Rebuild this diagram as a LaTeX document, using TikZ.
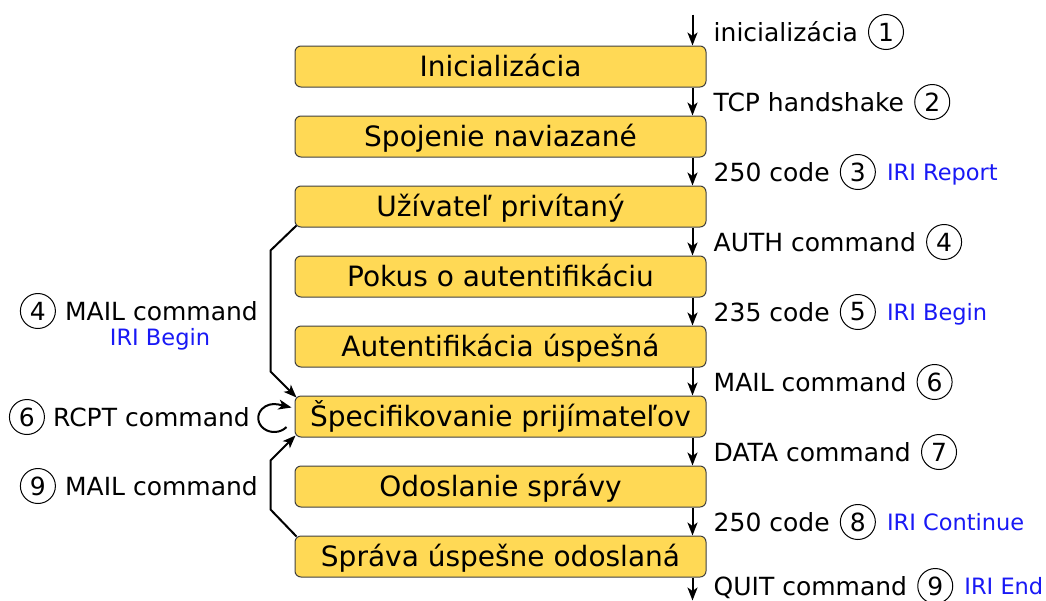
\documentclass[tikz,border=0pt]{standalone}
\usepackage{fontspec}
\setmainfont{DejaVu Sans}
\usetikzlibrary{arrows.meta,positioning,calc}
\definecolor{stateyellow}{RGB}{255,217,85}
\definecolor{iriblue}{RGB}{25,25,245}
\begin{document}
\begin{tikzpicture}[x=1pt,y=-1pt,
  state/.style={draw=black!75, line width=1pt, fill=stateyellow, rounded corners=6pt,
    minimum width=411pt, minimum height=41pt, inner sep=0pt,
    font=\fontsize{28}{32}\selectfont, text height=20.4pt, text depth=0pt},
  lbl/.style={inner sep=0pt, font=\fontsize{25}{30}\selectfont, text height=18pt, text depth=0pt},
  num/.style={draw, circle, line width=1pt, minimum size=35pt, inner sep=0pt,
    font=\fontsize{25}{30}\selectfont},
  iri/.style={inner sep=0pt, text=iriblue, font=\fontsize{22.5}{27}\selectfont,
    text height=16.4pt, text depth=0pt},
  flow/.style={line width=2pt, -{Stealth[length=13pt,width=10pt,inset=3.5pt]}},
]
\useasboundingbox (0,0) rectangle (1046,600);

% protocol states
\node[state] (B1) at (500.5,66.5)  {Inicializácia};
\node[state] (B2) at (500.5,136.5) {Spojenie naviazané};
\node[state] (B3) at (500.5,206.5) {Užívateľ privítaný};
\node[state] (B4) at (500.5,276.5) {Pokus o autentifikáciu};
\node[state] (B5) at (500.5,346.5) {Autentifikácia úspešná};
\node[state] (B6) at (500.5,416.5) {Špecifikovanie prijímateľov};
\node[state] (B7) at (500.5,486.5) {Odoslanie správy};
\node[state] (B8) at (500.5,556.5) {Správa úspešne odoslaná};

% main transitions on the right
\coordinate (start) at ($(B1.north east)+(-14,-31)$);
\coordinate (finish) at ($(B8.south east)+(-14,23)$);
\draw[flow] (start) -- ($(B1.north east)+(-14,0)$);
\foreach \a/\b in {B1/B2,B2/B3,B3/B4,B4/B5,B5/B6,B6/B7,B7/B8}
  \draw[flow] ($(\a.south east)+(-14,0)$) -- ($(\b.north east)+(-14,0)$);
\draw[flow] ($(B8.south east)+(-14,0)$) -- (finish);

% labels of the main transitions
\node[lbl, anchor=west] (t1) at ($(B1.north east)+(7,-13.5)$) {inicializácia};
\node[num, right=10pt of t1] (n1) {1};
\node[lbl, anchor=west] (t2) at ($(B1.south east)+(7,14.5)$) {TCP handshake};
\node[num, right=10pt of t2] (n2) {2};
\node[lbl, anchor=west] (t3) at ($(B2.south east)+(7,14.5)$) {250 code};
\node[num, right=10pt of t3] (n3) {3};
\node[iri, right=11pt of n3] (r3) {IRI Report};
\node[lbl, anchor=west] (t4) at ($(B3.south east)+(7,14.5)$) {AUTH command};
\node[num, right=10pt of t4] (n4) {4};
\node[lbl, anchor=west] (t5) at ($(B4.south east)+(7,14.5)$) {235 code};
\node[num, right=10pt of t5] (n5) {5};
\node[iri, right=11pt of n5] (r5) {IRI Begin};
\node[lbl, anchor=west] (t6) at ($(B5.south east)+(7,14.5)$) {MAIL command};
\node[num, right=10pt of t6] (n6) {6};
\node[lbl, anchor=west] (t7) at ($(B6.south east)+(7,14.5)$) {DATA command};
\node[num, right=10pt of t7] (n7) {7};
\node[lbl, anchor=west] (t8) at ($(B7.south east)+(7,14.5)$) {250 code};
\node[num, right=10pt of t8] (n8) {8};
\node[iri, right=11pt of n8] (r8) {IRI Continue};
\node[lbl, anchor=west] (t9) at ($(B8.south east)+(7,8.5)$) {QUIT command};
\node[num, right=10pt of t9] (n9) {9};
\node[iri, right=11pt of n9] (r9) {IRI End};

% side transitions into recipient specification
\draw[flow] ($(B3.south west)+(2,-2)$) -- ($(B3.south west)+(-24,23)$)
  -- ($(B6.north west)+(-24,-24)$) -- ($(B6.north west)+(2,2)$);
\draw[flow] ($(B8.north west)+(2,1)$) -- ($(B8.north west)+(-24,-26)$)
  -- ($(B6.south west)+(-24,23)$) -- ($(B6.south west)+(1,-2)$);
\draw[flow] ($(B6.west)+(-8,10.5)$) arc[start angle=40, end angle=285, x radius=16, y radius=14]
  -- ($(B6.west)+(-3,-9)$);

% labels of the side transitions
\node[lbl, anchor=east] (s4) at (258,311) {MAIL command};
\node[num, left=9pt of s4] (m4) {4};
\node[iri] (i4) at (160,337) {IRI Begin};
\node[lbl, anchor=east] (s6) at (250,417) {RCPT command};
\node[num, left=8pt of s6] (m6) {6};
\node[lbl, anchor=east] (s9) at (258,486) {MAIL command};
\node[num, left=9pt of s9] (m9) {9};
\end{tikzpicture}
\end{document}
